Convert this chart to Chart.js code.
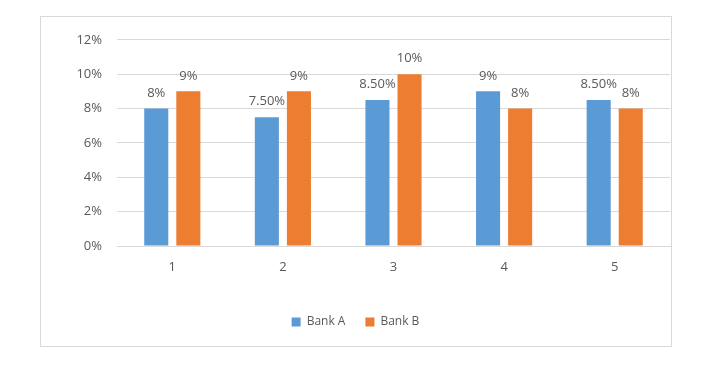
<!DOCTYPE html>
<html>
<head>
<meta charset="utf-8">
<script src="https://cdn.jsdelivr.net/npm/chart.js@4"></script>
<style>
  html, body { margin: 0; padding: 0; background: #fff; }
  body { width: 717px; height: 367px; position: relative; overflow: hidden; }
  #box {
    position: absolute; left: 40px; top: 16px;
    width: 630px; height: 329px;
    border: 1px solid #d9d9d9;
  }
</style>
</head>
<body>
<div id="box"><canvas id="chart1"></canvas></div>
<script>
const categories = ['1', '2', '3', '4', '5'];
const bankA = [0.08, 0.075, 0.085, 0.09, 0.085];
const bankB = [0.09, 0.09, 0.10, 0.08, 0.08];
const yTicks = [0, 0.02, 0.04, 0.06, 0.08, 0.10, 0.12];

const textColor = '#595959';
const fontFamily = '"Open Sans", "Noto Sans", sans-serif';

function pctLabel(v) {
    const p = Math.round(v * 10000) / 100;
    return Number.isInteger(p) ? p + '%' : p.toFixed(2) + '%';
}

// draws the value above each bar
const barLabels = {
    id: 'barLabels',
    afterDatasetsDraw(chart) {
        const ctx = chart.ctx;
        ctx.save();
        ctx.font = '13px ' + fontFamily;
        ctx.fillStyle = textColor;
        ctx.textAlign = 'center';
        ctx.textBaseline = 'bottom';
        chart.data.datasets.forEach((ds, i) => {
            chart.getDatasetMeta(i).data.forEach((bar, j) => {
                ctx.fillText(pctLabel(ds.data[j]), bar.x, bar.y - 9);
            });
        });
        ctx.restore();
    }
};

const ch1 = document.getElementById('chart1');

new Chart(ch1, {
    type: 'bar',
    data: {
        labels: categories,
        datasets: [
            {
                label: 'Bank A',
                data: bankA,
                backgroundColor: '#5b9bd5'
            },
            {
                label: 'Bank B',
                data: bankB,
                backgroundColor: '#ed7d31'
            }
        ]
    },
    options: {
        responsive: true,
        maintainAspectRatio: false,
        animation: false,
        layout: { padding: { top: 22, right: 1, bottom: 8, left: 0 } },
        datasets: {
            bar: { categoryPercentage: 0.58, barPercentage: 0.75 }
        },
        plugins: {
            legend: {
                position: 'bottom',
                labels: {
                    boxWidth: 9,
                    boxHeight: 9,
                    padding: 20,
                    color: textColor,
                    font: { family: fontFamily, size: 12 }
                }
            },
            tooltip: { enabled: false }
        },
        scales: {
            x: {
                grid: { display: false, drawTicks: false },
                border: { display: true, color: '#d9d9d9' },
                ticks: { color: textColor, padding: 13, font: { family: fontFamily, size: 13 } },
                afterFit(scale) { scale.height = 50; }
            },
            y: {
                min: 0,
                max: 0.12,
                afterBuildTicks(scale) { scale.ticks = yTicks.map(v => ({ value: v })); },
                grid: { color: '#d9d9d9', drawTicks: false },
                border: { display: false },
                ticks: {
                    color: textColor,
                    padding: 15,
                    font: { family: fontFamily, size: 13 },
                    callback: v => Math.round(v * 100) + '%'
                },
                afterFit(scale) { scale.width = 76; }
            }
        }
    },
    plugins: [barLabels]
});
</script>
</body>
</html>
